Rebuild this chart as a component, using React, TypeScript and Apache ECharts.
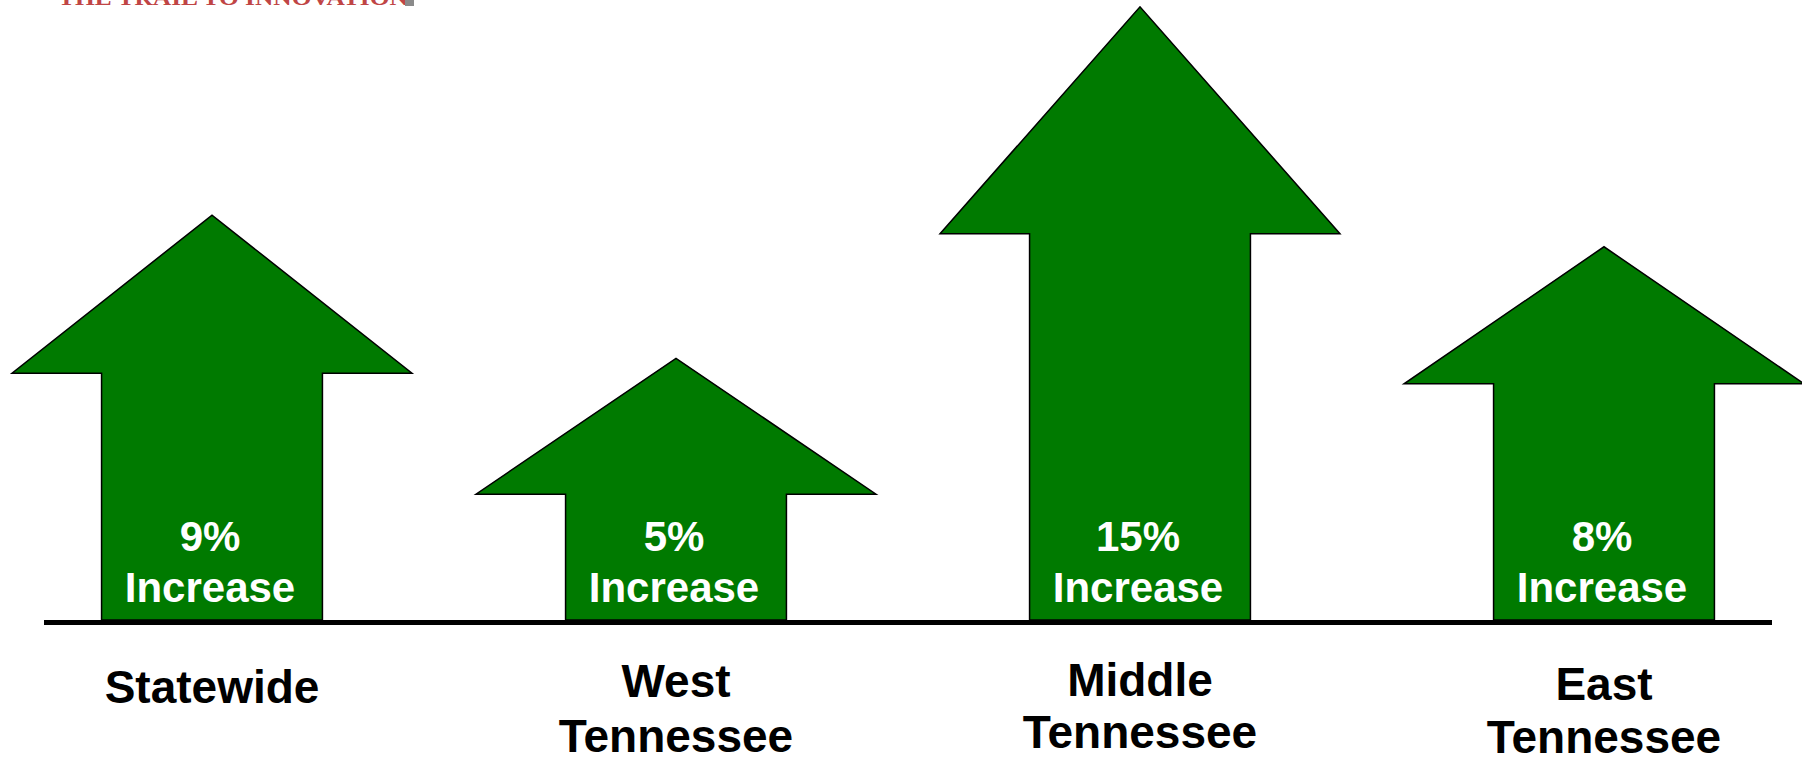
import React, { useEffect, useRef } from "react";
import * as echarts from "echarts";

// Regions shown along the bottom
const categories = ["Statewide", "West\nTennessee", "Middle\nTennessee", "East\nTennessee"];
// Percentage increase printed on each arrow
const increasePct = [9, 5, 15, 8];
// Arrow tip height and shoulder (head base) height, relative scale 0-100
const arrowTip = [65.3, 42.2, 98.9, 60.2];
const arrowShoulder = [39.8, 20.3, 62.3, 38.1];

const LABEL_FONT = '"Liberation Sans", Arial, Helvetica, sans-serif';

export default function App() {
  const ref = useRef<HTMLDivElement>(null);

  useEffect(() => {
    if (!ref.current) return;
    const chart = echarts.init(ref.current, undefined, { renderer: "svg" });

    const labelTweaks: Record<number, { lineHeight: number; padding: number[] }> = {
      0: { lineHeight: 56, padding: [9, 0, 0, 0] },
      1: { lineHeight: 55, padding: [3, 0, 0, 0] },
      2: { lineHeight: 52, padding: [4, 0, 0, 0] },
      3: { lineHeight: 53, padding: [7, 0, 0, 0] },
    };

    const xData = categories.map((c, i) => ({
      value: c,
      textStyle: labelTweaks[i],
    }));

    const seriesData = categories.map((_, i) => [i, arrowTip[i], arrowShoulder[i], increasePct[i]]);

    chart.setOption({
      animation: false,
      backgroundColor: "#ffffff",
      grid: {
        left: -20,
        right: -34,
        top: 0,
        bottom: 144,
        containLabel: false,
        outerBoundsMode: "none",
      },
      xAxis: {
        type: "category",
        data: xData,
        boundaryGap: true,
        axisLine: { show: false },
        axisTick: { show: false },
        splitLine: { show: false },
        axisLabel: {
          interval: 0,
          margin: 30,
          color: "#000000",
          fontSize: 46,
          fontWeight: "bold",
          fontFamily: LABEL_FONT,
          align: "center",
        },
      },
      yAxis: {
        type: "value",
        min: 0,
        max: 100,
        show: false,
        splitLine: { show: false },
      },
      series: [
        {
          type: "custom",
          encode: { x: 0, y: 1 },
          data: seriesData,
          clip: false,
          renderItem: (params: any, api: any) => {
            const i = api.value(0);
            const base = api.coord([i, 0]);
            const tip = api.coord([i, api.value(1)]);
            const sh = api.coord([i, api.value(2)]);
            const band = api.size([1, 0])[0];
            const hw = band * 0.431;
            const sw = band * 0.238;
            const cx = base[0];
            const by = base[1];
            return {
              type: "group",
              children: [
                {
                  type: "polygon",
                  shape: {
                    points: [
                      [cx - sw, by],
                      [cx - sw, sh[1]],
                      [cx - hw, sh[1]],
                      [cx, tip[1]],
                      [cx + hw, sh[1]],
                      [cx + sw, sh[1]],
                      [cx + sw, by],
                    ],
                  },
                  style: { fill: "#007a00", stroke: "#000000", lineWidth: 1.5, lineJoin: "miter" },
                },
                {
                  type: "text",
                  x: cx - 2,
                  y: by - 58,
                  style: {
                    text: api.value(3) + "%\nIncrease",
                    fill: "#ffffff",
                    fontSize: 42,
                    fontWeight: "bold",
                    fontFamily: LABEL_FONT,
                    align: "center",
                    verticalAlign: "middle",
                    lineHeight: 51,
                  },
                },
              ],
            };
          },
        },
      ],
      graphic: [
        {
          type: "line",
          z: 100,
          shape: { x1: 44, y1: 622.5, x2: 1772, y2: 622.5 },
          style: { stroke: "#000000", lineWidth: 5 },
        },
        {
          type: "text",
          x: 58,
          y: 8,
          scaleX: 1.27,
          style: {
            text: "THE TRAIL TO INNOVATION",
            fill: "#c04545",
            font: 'bold 20px "Liberation Serif", serif',
            verticalAlign: "bottom",
          },
        },
        {
          type: "rect",
          shape: { x: 405, y: 0, width: 9, height: 6 },
          style: { fill: "#8a8a8a" },
        },
      ],
    });

    return () => {
      chart.dispose();
    };
  }, []);

  return (
    <div
      ref={ref}
      style={{ position: "fixed", left: 0, top: 0, width: 1802, height: 764, background: "#ffffff" }}
    />
  );
}
